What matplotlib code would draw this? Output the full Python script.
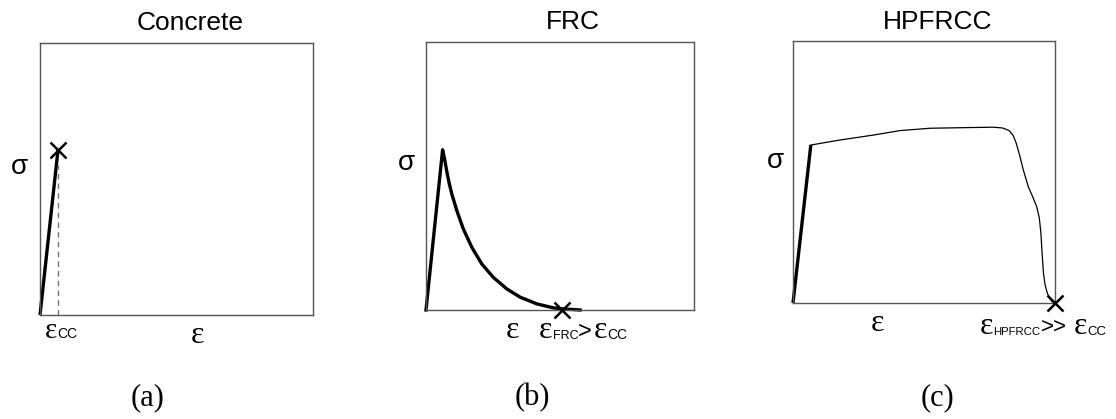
import matplotlib
matplotlib.use("Agg")
import matplotlib.pyplot as plt

W, H = 1116, 419
SANS = "Liberation Sans"
SERIF = "Liberation Serif"

# ---- data (normalised strain / stress) ----
titles = ["Concrete", "FRC", "HPFRCC"]
panel_tags = ["(a)", "(b)", "(c)"]

conc_strain = [0.0, 0.066]
conc_stress = [0.0, 0.607]
conc_fail_strain = 0.066
conc_fail_stress = 0.607
conc_dash_top = 0.55

frc_strain = [0.0, 0.062, 0.070, 0.077, 0.086, 0.096, 0.115, 0.139, 0.171,
              0.208, 0.251, 0.301, 0.351, 0.413, 0.475, 0.512, 0.575]
frc_stress = [0.0, 0.598, 0.560, 0.520, 0.475, 0.434, 0.371, 0.303, 0.234,
              0.172, 0.122, 0.079, 0.048, 0.023, 0.008, 0.004, 0.0]
frc_fail_strain = 0.507
frc_fail_stress = 0.0

hp_elastic_strain = [0.0, 0.068]
hp_elastic_stress = [0.0, 0.603]
hp_strain = [0.068, 0.179, 0.307, 0.408, 0.523, 0.637, 0.70, 0.764, 0.80,
             0.825, 0.840, 0.852, 0.866, 0.879, 0.898, 0.915, 0.930, 0.940,
             0.946, 0.950, 0.956, 0.962, 0.970, 0.978, 0.988, 1.0]
hp_stress = [0.603, 0.622, 0.641, 0.658, 0.667, 0.669, 0.670, 0.671, 0.668,
             0.658, 0.640, 0.610, 0.560, 0.508, 0.444, 0.405, 0.368, 0.325,
             0.270, 0.202, 0.113, 0.070, 0.040, 0.020, 0.006, 0.0]
hp_fail_strain = 1.0
hp_fail_stress = 0.0

fig = plt.figure(figsize=(W / 100, H / 100), dpi=100)
fig.patch.set_facecolor("white")

# axes boxes in pixels: left, top, width, height
boxes = [(40, 43, 273, 272), (426, 42, 268, 268), (793, 41, 262, 262)]
axes = []
for (l, t, w, h) in boxes:
    ax = fig.add_axes([l / W, 1 - (t + h) / H, w / W, h / H])
    ax.set_xlim(0, 1)
    ax.set_ylim(0, 1)
    ax.set_xticks([])
    ax.set_yticks([])
    for s in ax.spines.values():
        s.set_color("#555555")
        s.set_linewidth(1.0)
    axes.append(ax)

THICK = 2.4
MK = dict(marker="x", markersize=12, markeredgewidth=1.8, color="black",
          linestyle="none", clip_on=False, zorder=5)

# (a) Concrete
ax = axes[0]
ax.plot(conc_strain, conc_stress, color="black", lw=THICK, clip_on=False,
        solid_capstyle="butt")
ax.plot([conc_fail_strain, conc_fail_strain], [0, conc_dash_top],
        color="#777777", lw=1.0, ls=(0, (4, 3)))
ax.plot([conc_fail_strain], [conc_fail_stress], **MK)

# (b) FRC
ax = axes[1]
ax.plot(frc_strain, frc_stress, color="black", lw=THICK, clip_on=False,
        solid_joinstyle="round")
ax.plot([frc_fail_strain], [frc_fail_stress], **MK)

# (c) HPFRCC
ax = axes[2]
ax.plot(hp_elastic_strain, hp_elastic_stress, color="black", lw=THICK,
        clip_on=False, solid_capstyle="butt")
ax.plot(hp_strain, hp_stress, color="black", lw=0.9, clip_on=False)
ax.plot([hp_fail_strain], [hp_fail_stress], **MK)


def ptxt(x, y, s, **kw):
    return fig.text(x / W, 1 - y / H, s, **kw)


# titles
for (cx, by), t in zip([(190, 30), (573, 29), (938, 29)], titles):
    ptxt(cx, by, t, ha="center", va="baseline", fontsize=19, family=SANS)

# sigma labels
for (cx, cy) in [(19, 167), (406, 163), (775, 161)]:
    ptxt(cx, cy, "σ", ha="center", va="center", fontsize=20, family=SANS)

# main epsilon labels
for (lx, by) in [(191, 343), (506, 338), (871, 331)]:
    ptxt(lx, by, "ε", ha="left", va="baseline", fontsize=23, family=SERIF)

fig.canvas.draw()
renderer = fig.canvas.get_renderer()


def chain(x0, base, parts):
    """parts: (text, family, size, gap_before_px, baseline_shift_px)"""
    x = x0
    for (s, fam, fs, gap, dy) in parts:
        x += gap
        t = ptxt(x, base + dy, s, ha="left", va="baseline", fontsize=fs,
                 family=fam)
        bb = t.get_window_extent(renderer)
        x = x + bb.width


chain(45, 338, [("ε", SERIF, 21, 0, 0), ("CC", SANS, 10, 0, 0)])
chain(539, 338, [("ε", SERIF, 23, 0, 0), ("FRC", SANS, 9, 0, 1),
                 (">", SANS, 17, 0, 0), ("ε", SERIF, 23, 2, 0),
                 ("CC", SANS, 10, 0, 1)])
chain(980, 334, [("ε", SERIF, 23, 0, 0), ("HPFRCC", SANS, 8.2, 0, 1),
                 (">>", SANS, 16, 0, -1), ("ε", SERIF, 23, 7, 0),
                 ("CC", SANS, 9.5, 0, 1)])

# panel tags
for (cx, by), t in zip([(148, 405), (532, 405), (937, 405)], panel_tags):
    ptxt(cx, by, t, ha="center", va="baseline", fontsize=22, family=SERIF)

fig.savefig("out.png", dpi=100, facecolor="white")
